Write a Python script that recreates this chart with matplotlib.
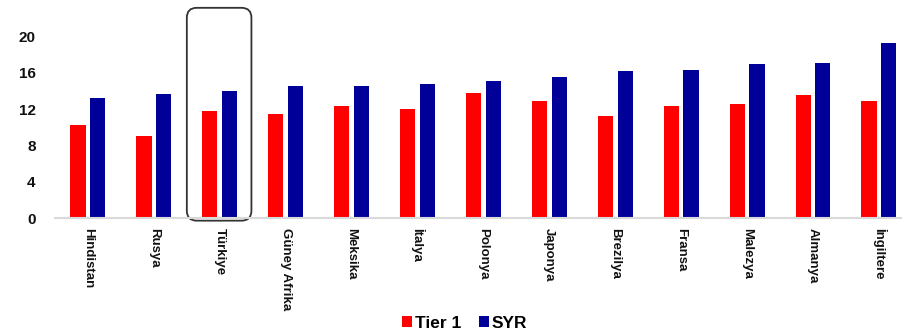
import numpy as np
import matplotlib.pyplot as plt
from matplotlib.patches import FancyBboxPatch

plt.rcParams['font.family'] = ['Liberation Sans', 'DejaVu Sans']

countries = ['Hindistan', 'Rusya', 'Türkiye', 'Güney Afrika', 'Meksika', 'İtalya',
             'Polonya', 'Japonya', 'Brezilya', 'Fransa', 'Malezya', 'Almanya', 'İngiltere']
tier1 = [10.3, 9.1, 11.75, 11.5, 12.35, 12.05, 13.75, 12.9, 11.3, 12.4, 12.6, 13.55, 12.85]
syr = [13.2, 13.7, 14.0, 14.5, 14.55, 14.75, 15.05, 15.55, 16.2, 16.3, 17.0, 17.1, 19.25]
yticks = [0, 4, 8, 12, 16, 20]

fig = plt.figure(figsize=(9.02, 3.36), dpi=100)
ax = fig.add_axes([55/902, 1 - 218.3/336, 1 - 55/902, 218.3/336])

x = np.arange(len(countries))
w = 0.23
ax.bar(x - 0.15, tier1, w, color='#FF0000', label='Tier 1')
ax.bar(x + 0.15, syr, w, color='#000099', label='SYR')

ax.set_xlim(-0.5, 12.35)
ax.set_ylim(0, 24)
ax.set_yticks(yticks)
ax.set_xticks(x)
ax.set_xticklabels(countries, rotation=270, fontsize=9.5, fontweight='bold', color='#111111')
ax.tick_params(axis='x', length=0, pad=7)
ax.tick_params(axis='y', length=0, pad=14, labelsize=11, labelcolor='#111111')
for lab in ax.get_yticklabels():
    lab.set_fontweight('bold')

for s in ['top', 'right', 'left']:
    ax.spines[s].set_visible(False)
ax.spines['bottom'].set_color('#D9D9D9')
ax.spines['bottom'].set_linewidth(1.5)

# highlight box around Türkiye
box = FancyBboxPatch((2 - 0.5, -0.26), 0.98, 23.4,
                     boxstyle='round,pad=0,rounding_size=0.15', mutation_aspect=7.27,
                     fill=False, edgecolor='#333333', linewidth=1.3, clip_on=False)
ax.add_patch(box)

fig.legend(loc='upper center', bbox_to_anchor=(0.515, 1 - 307/336), ncol=2, frameon=False,
           borderpad=0, handlelength=0.6, handleheight=0.6, handletextpad=0.15,
           columnspacing=1.0, prop={'size': 12.5, 'weight': 'bold'})

fig.savefig('out.png', dpi=100)
